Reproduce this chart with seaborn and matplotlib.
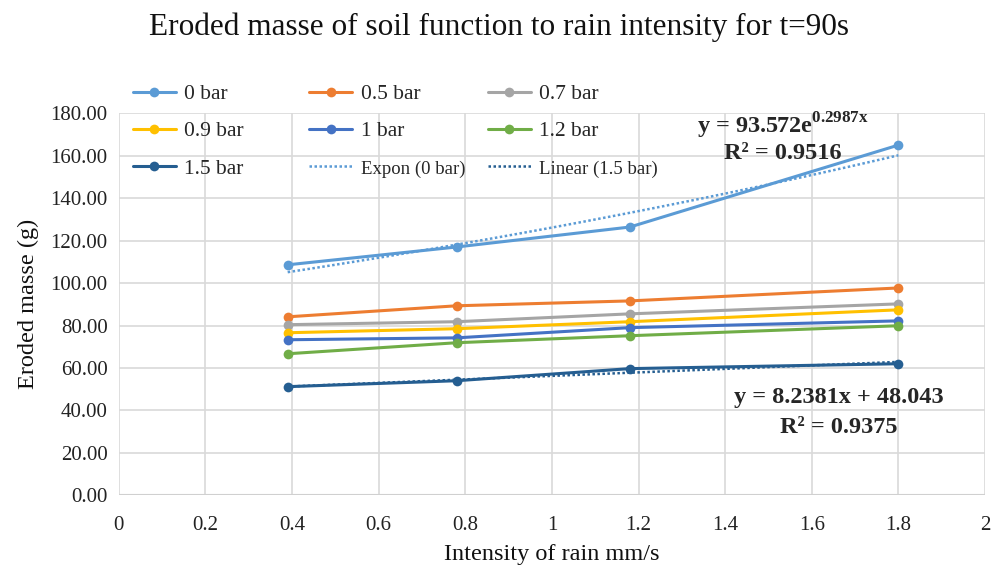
import numpy as np
import pandas as pd
import matplotlib.pyplot as plt
import seaborn as sns
from matplotlib.lines import Line2D

# data
intensity = [0.39, 0.78, 1.18, 1.8]
bar_0 = [108.6, 117.0, 126.4, 165.0]
bar_05 = [84.1, 89.3, 91.6, 97.7]
bar_07 = [80.4, 81.8, 85.5, 90.2]
bar_09 = [76.6, 78.5, 81.8, 87.4]
bar_1 = [73.3, 74.2, 79.0, 82.2]
bar_12 = [66.7, 71.9, 75.2, 79.9]
bar_15 = [51.2, 54.0, 59.7, 62.0]

labels = ['0 bar', '0.5 bar', '0.7 bar', '0.9 bar', '1 bar', '1.2 bar', '1.5 bar']
colors = ['#5B9BD5', '#ED7D31', '#A5A5A5', '#FFC000', '#4472C4', '#70AD47', '#255E91']

# trendline coefficients shown on the chart
exp_a, exp_b = 93.572, 0.2987
lin_m, lin_c = 8.2381, 48.043

df = pd.DataFrame({
    'x': intensity * 7,
    'y': bar_0 + bar_05 + bar_07 + bar_09 + bar_1 + bar_12 + bar_15,
    'series': [l for l in labels for _ in intensity],
})

sns.set_theme(style='whitegrid')
plt.rcParams['font.family'] = ['Liberation Serif', 'DejaVu Serif']
plt.rcParams['mathtext.fontset'] = 'custom'
plt.rcParams['mathtext.bf'] = 'Liberation Serif:bold'
plt.rcParams['mathtext.rm'] = 'Liberation Serif'

fig, ax = plt.subplots(figsize=(9.98, 5.72), dpi=100)
fig.subplots_adjust(left=0.119, right=0.987, top=0.802, bottom=0.134)

sns.lineplot(data=df, x='x', y='y', hue='series', hue_order=labels,
             palette=colors, marker='o', markersize=7, markeredgewidth=0,
             linewidth=2.2, ax=ax, legend=False)

xs = np.linspace(min(intensity), max(intensity), 100)
ax.plot(xs, exp_a * np.exp(exp_b * xs), color=colors[0], lw=1.8, ls=(0, (1, 1)))
ax.plot(xs, lin_m * xs + lin_c, color=colors[6], lw=1.8, ls=(0, (1, 1)))

ax.set_xlim(0, 2)
ax.set_ylim(0, 180)
ax.set_xticks(np.arange(0, 2.01, 0.2))
ax.set_xticklabels(['0', '0.2', '0.4', '0.6', '0.8', '1', '1.2', '1.4', '1.6', '1.8', '2'])
ax.set_yticks(np.arange(0, 181, 20))
ax.set_yticklabels([f'{v:.2f}' for v in range(0, 181, 20)])
ax.tick_params(labelsize=15, colors='#222222', pad=8, length=0)
ax.tick_params(axis='x', pad=15)
ax.grid(color='#D9D9D9', lw=1.2)
for s in ax.spines.values():
    s.set_visible(False)
ax.axhline(0, color='#D0D0D0', lw=1.5, zorder=1)

ax.set_xlabel('Intensity of rain mm/s', fontsize=17.5, color='#111111', labelpad=6)
ax.set_ylabel('Eroded masse (g)', fontsize=17.5, color='#111111', labelpad=8)
fig.suptitle('Eroded masse of soil function to rain intensity for t=90s',
             fontsize=22.5, y=0.978, color='#111111')

ax.text(1.533, 174.3, r'y = 93.572e$^{\mathbf{0.2987x}}$', fontsize=17.5,
        fontweight='bold', ha='center', va='center')
ax.text(1.533, 161.2, 'R² = 0.9516', fontsize=17.5, fontweight='bold',
        ha='center', va='center')
ax.text(1.663, 46.1, 'y = 8.2381x + 48.043', fontsize=17.5, fontweight='bold',
        ha='center', va='center')
ax.text(1.663, 32.0, 'R² = 0.9375', fontsize=17.5, fontweight='bold',
        ha='center', va='center')

# legend laid out in three columns like the original
def handle(c, trend=False):
    if trend:
        return Line2D([], [], color=c, lw=1.8, ls=(0, (1, 1)))
    return Line2D([], [], color=c, lw=2.2, marker='o', markersize=7, markeredgewidth=0)

columns = [
    ([handle(colors[0]), handle(colors[3]), handle(colors[6])],
     ['0 bar', '0.9 bar', '1.5 bar'], 0.122),
    ([handle(colors[1]), handle(colors[4]), handle(colors[0], True)],
     ['0.5 bar', '1 bar', 'Expon (0 bar)'], 0.299),
    ([handle(colors[2]), handle(colors[5]), handle(colors[6], True)],
     ['0.7 bar', '1.2 bar', 'Linear (1.5 bar)'], 0.478),
]
for hs, ls, xpos in columns:
    leg = fig.legend(hs, ls, loc='upper left', bbox_to_anchor=(xpos, 0.872),
                     frameon=False, fontsize=15.5, labelspacing=0.8,
                     handlelength=2.0, handletextpad=0.4, borderpad=0)
    for t in leg.get_texts():
        if '(' in t.get_text():
            t.set_fontsize(13.5)

fig.savefig('out.png', dpi=100)
